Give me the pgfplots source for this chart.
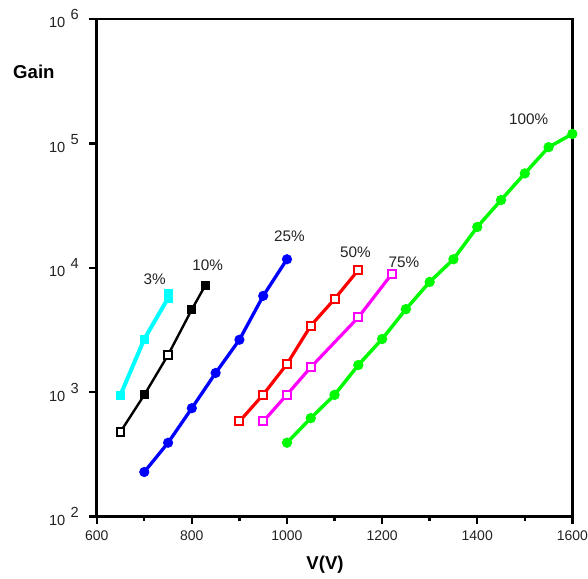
\documentclass[border=0pt]{standalone}
\usepackage{fontspec}
\setmainfont{Liberation Sans}
\usepackage{pgfplots}
\pgfplotsset{compat=1.18}

\definecolor{cyanA}{RGB}{0,255,255}
\definecolor{blueA}{RGB}{0,0,255}
\definecolor{redA}{RGB}{255,0,0}
\definecolor{magA}{RGB}{255,0,255}
\definecolor{greenA}{RGB}{0,250,0}
\definecolor{txt}{RGB}{34,34,34}

\newcommand{\decade}[1]{10\hspace{4pt}\raisebox{6pt}{#1}}

\begin{document}
\begin{tikzpicture}
% overall page frame around the plot area
\path[use as bounding box] (-72.75pt,-46.5pt) rectangle (369.5pt,388.5pt);
\begin{axis}[
  at={(0pt,0pt)}, anchor=south west,
  scale only axis, width=357.75pt, height=374.25pt,
  xmin=600, xmax=1600,
  ymode=log, log basis y=10, ymin=100, ymax=1e6,
  xtick={600,800,...,1600}, minor xtick={700,900,...,1500},
  ytick={1e2,1e3,1e4,1e5,1e6},
  yticklabels={\decade{2},\decade{3},\decade{4},\decade{5},\decade{6}},
  /pgf/number format/assume math mode=true,
  /pgf/number format/1000 sep={},
  tick pos=left, tick align=outside,
  major tick length=5.5pt, minor tick length=3.5pt,
  every tick/.style={black, line width=1.8pt},
  axis line style={line width=2pt},
  xticklabel style={font=\fontsize{10.5}{12}\selectfont, text=txt, yshift=-2pt},
  yticklabel style={font=\fontsize{11}{13}\selectfont, text=txt, xshift=-4.5pt, yshift=0pt},
  clip=false,
]
% 3%
\addplot[cyanA, line width=3pt, mark=square*, mark size=3pt,
  mark options={solid, fill=cyanA, line width=0.5pt}]
  coordinates {(650,950) (700,2670) (750,5700) (750,6200)};
% 10%
\addplot[black, line width=1.8pt, mark=square*, mark size=3pt,
  mark options={solid, fill=black, line width=0.8pt}]
  coordinates {(650,480) (700,950) (750,1990) (800,4620) (828,7190)};
\addplot[only marks, black, mark=square*, mark size=3pt,
  mark options={solid, fill=white, line width=1.5pt}]
  coordinates {(650,480) (750,1990)};
% 25%
\addplot[blueA, line width=2.5pt, mark=*, mark size=2.5pt,
  mark options={solid, fill=blueA}]
  coordinates {(700,228) (750,392) (800,743) (850,1426) (900,2636) (950,5940) (1000,11700)};
% 50%
\addplot[redA, line width=2.4pt, mark=square*, mark size=3pt,
  mark options={solid, fill=white, line width=1.5pt}]
  coordinates {(900,581) (950,955) (1000,1683) (1050,3420) (1100,5600) (1150,9590)};
% 75%
\addplot[magA, line width=2.4pt, mark=square*, mark size=3pt,
  mark options={solid, fill=white, line width=1.5pt}]
  coordinates {(950,581) (1000,955) (1050,1585) (1150,3990) (1220,8870)};
% 100%
\addplot[greenA, line width=2.6pt, mark=*, mark size=2.5pt,
  mark options={solid, fill=greenA}]
  coordinates {(1000,392) (1050,618) (1100,950) (1150,1652) (1200,2672) (1250,4645)
               (1300,7690) (1350,11700) (1400,21250) (1450,35000) (1500,57300)
               (1550,93100) (1600,119000)};
% curve labels
\begin{scope}[every node/.style={font=\fontsize{11.5}{13}\selectfont, text=txt}]
\node at (axis cs:722,8090) {3\%};
\node at (axis cs:833,10480) {10\%};
\node at (axis cs:1005,17900) {25\%};
\node at (axis cs:1144,13300) {50\%};
\node at (axis cs:1246,11000) {75\%};
\node at (axis cs:1508,157000) {100\%};
\end{scope}
\end{axis}
\node[font=\fontsize{14}{16}\selectfont\bfseries] at (-47.25pt,334.5pt) {Gain};
\node[font=\fontsize{14}{16}\selectfont\bfseries] at (171.75pt,-36pt) {V(V)};
\end{tikzpicture}
\end{document}
